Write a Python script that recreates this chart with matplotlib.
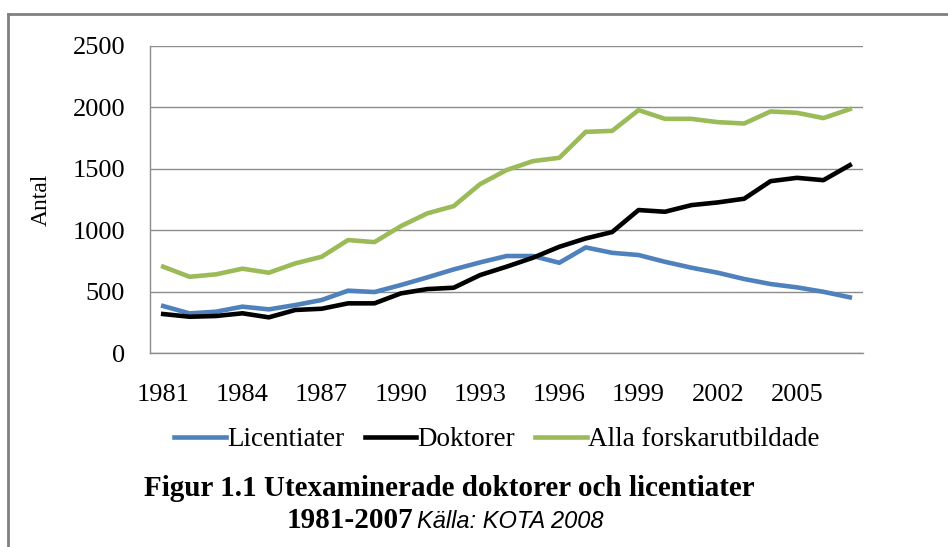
import matplotlib.pyplot as plt
from matplotlib.lines import Line2D

years = list(range(1981, 2008))
licentiater = [382, 322, 336, 377, 355, 390, 431, 507, 496, 553, 615, 680, 737, 789,
               789, 734, 859, 815, 797, 742, 694, 653, 602, 561, 534, 498, 453]
doktorer = [317, 295, 301, 323, 290, 350, 360, 404, 404, 485, 520, 531, 634, 702,
            775, 864, 932, 984, 1163, 1149, 1203, 1225, 1255, 1398, 1425, 1406, 1528]
alla = [702, 620, 640, 686, 653, 729, 783, 919, 902, 1032, 1136, 1195, 1374, 1488,
        1561, 1588, 1799, 1807, 1976, 1905, 1905, 1878, 1867, 1965, 1954, 1911, 1984]
yticks = [0, 500, 1000, 1500, 2000, 2500]

serif = ["Liberation Serif", "DejaVu Serif"]

fig = plt.figure(figsize=(9.48, 5.47), dpi=100)
ax = fig.add_axes([150 / 948, 1 - 353 / 547, (863 - 150) / 948, (353 - 45.7) / 547])

x = list(range(len(years)))
ax.plot(x, licentiater, color="#4F81BD", lw=3.3, label="Licentiater", solid_joinstyle="round")
ax.plot(x, doktorer, color="black", lw=3.3, label="Doktorer", solid_joinstyle="round")
ax.plot(x, alla, color="#9BBB59", lw=3.3, label="Alla forskarutbildade", solid_joinstyle="round")

ax.set_xlim(-0.5, len(years) - 0.5)
ax.set_ylim(0, 2500)
ax.set_yticks(yticks)
ax.yaxis.grid(True, color="#8c8c8c", lw=1)
ax.set_axisbelow(True)
ax.set_xticks(x[::3])
ax.set_xticklabels([str(y) for y in years[::3]])
for s in ["top", "right"]:
    ax.spines[s].set_visible(False)
for s in ["left", "bottom"]:
    ax.spines[s].set_color("#8c8c8c")
    ax.spines[s].set_linewidth(1)
ax.tick_params(axis="y", length=0, pad=18)
ax.tick_params(axis="x", length=0, pad=22)
for lbl in ax.get_xticklabels() + ax.get_yticklabels():
    lbl.set_family(serif)
    lbl.set_fontsize(19)

ax.set_ylabel("Antal", family=serif, fontsize=17, labelpad=15)

fig.legend(loc="center", bbox_to_anchor=(497 / 948, 1 - 440 / 547), ncol=3,
           frameon=False, prop={"family": serif, "size": 19.5},
           handlelength=1.9, handletextpad=0.05, columnspacing=0.75)

fig.text(449 / 948, 1 - 488 / 547, "Figur 1.1 Utexaminerade doktorer och licentiater",
         family=serif, fontsize=21, fontweight="bold", ha="center", va="center")
fig.text(413 / 948, 1 - 521 / 547, "1981-2007", family=serif, fontsize=21,
         fontweight="bold", ha="right", va="center")
fig.text(417 / 948, 1 - 522 / 547, "Källa: KOTA 2008", family=["Liberation Sans", "DejaVu Sans"],
         fontsize=17, style="italic", ha="left", va="center")

# frame around the figure (left and top edges only visible)
fig.add_artist(Line2D([8 / 948, 8 / 948], [0, 1 - 14 / 547], transform=fig.transFigure,
                      color="#808080", lw=2))
fig.add_artist(Line2D([8 / 948, 1], [1 - 14 / 547, 1 - 14 / 547], transform=fig.transFigure,
                      color="#808080", lw=2))

fig.savefig("out.png", dpi=100)
